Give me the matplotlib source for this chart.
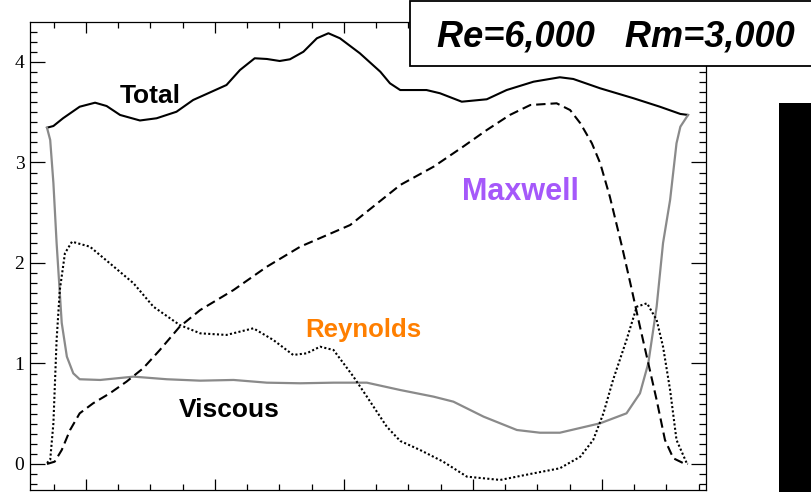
import numpy as np
import matplotlib
matplotlib.use("Agg")
import matplotlib.pyplot as plt
from matplotlib.patches import Rectangle

# curves (x normalised 0..1 across the domain)
x_total = [0.000, 0.010, 0.025, 0.051, 0.075, 0.093, 0.114, 0.145, 0.171, 0.202,
           0.228, 0.249, 0.280, 0.301, 0.324, 0.343, 0.363, 0.379, 0.400, 0.421,
           0.439, 0.457, 0.488, 0.520, 0.535, 0.551, 0.592, 0.613, 0.647, 0.686,
           0.717, 0.759, 0.800, 0.821, 0.863, 0.915, 0.956, 0.988, 1.000]
total = [3.346, 3.363, 3.440, 3.555, 3.595, 3.562, 3.473, 3.418, 3.440, 3.505,
         3.622, 3.682, 3.771, 3.920, 4.037, 4.030, 4.010, 4.027, 4.102, 4.236,
         4.286, 4.236, 4.087, 3.903, 3.788, 3.721, 3.721, 3.689, 3.605, 3.629,
         3.721, 3.804, 3.848, 3.831, 3.738, 3.639, 3.555, 3.483, 3.473]

x_maxwell = [0.000, 0.012, 0.023, 0.036, 0.051, 0.072, 0.098, 0.124, 0.150, 0.176,
             0.207, 0.239, 0.291, 0.343, 0.395, 0.473, 0.551, 0.603, 0.649, 0.686,
             0.722, 0.754, 0.795, 0.816, 0.832, 0.850, 0.863, 0.878, 0.897, 0.910,
             0.925, 0.938, 0.951, 0.964, 0.977, 0.993, 1.000]
maxwell = [0.000, 0.023, 0.139, 0.338, 0.504, 0.604, 0.703, 0.819, 0.952, 1.134,
           1.366, 1.532, 1.731, 1.963, 2.162, 2.378, 2.776, 2.958, 3.157, 3.323,
           3.473, 3.572, 3.589, 3.522, 3.390, 3.191, 2.992, 2.660, 2.162, 1.798,
           1.366, 1.002, 0.637, 0.239, 0.057, 0.007, 0.000]

x_viscous = [0.000, 0.005, 0.010, 0.015, 0.018, 0.023, 0.031, 0.041, 0.051, 0.083,
             0.135, 0.187, 0.239, 0.291, 0.343, 0.395, 0.447, 0.499, 0.551, 0.603,
             0.634, 0.681, 0.733, 0.769, 0.800, 0.863, 0.904, 0.925, 0.938, 0.951,
             0.961, 0.972, 0.982, 0.988, 1.000]
viscous = [3.346, 3.224, 2.796, 2.199, 1.900, 1.403, 1.068, 0.902, 0.843, 0.836,
           0.869, 0.843, 0.829, 0.836, 0.809, 0.803, 0.809, 0.809, 0.736, 0.670,
           0.620, 0.471, 0.338, 0.311, 0.311, 0.405, 0.504, 0.703, 1.002, 1.565,
           2.199, 2.627, 3.191, 3.356, 3.473]

x_reynolds = [0.000, 0.005, 0.010, 0.015, 0.020, 0.028, 0.039, 0.067, 0.098, 0.135,
              0.166, 0.207, 0.239, 0.280, 0.322, 0.353, 0.384, 0.405, 0.426, 0.447,
              0.478, 0.499, 0.530, 0.551, 0.582, 0.618, 0.655, 0.707, 0.759, 0.800,
              0.832, 0.852, 0.868, 0.883, 0.904, 0.920, 0.936, 0.951, 0.961, 0.972,
              0.982, 0.998]
reynolds = [0.010, 0.040, 0.405, 1.234, 1.731, 2.097, 2.212, 2.162, 1.997, 1.798,
            1.565, 1.383, 1.300, 1.284, 1.350, 1.234, 1.085, 1.101, 1.167, 1.134,
            0.869, 0.670, 0.371, 0.229, 0.139, 0.023, -0.126, -0.159, -0.093, -0.043,
            0.073, 0.239, 0.504, 0.836, 1.234, 1.565, 1.599, 1.433, 1.167, 0.736,
            0.239, 0.007]

W, H = 811, 492
fig = plt.figure(figsize=(W / 100, H / 100), dpi=100)
ax = fig.add_axes([30 / W, 2 / H, 676 / W, 468 / H])

ax.plot(x_total, total, color="black", lw=1.5)
ax.plot(x_viscous, viscous, color="#8a8a8a", lw=1.6)
ax.plot(x_maxwell, maxwell, color="black", lw=1.5, linestyle=(0, (4.5, 2.4)))
ax.plot(x_reynolds, reynolds, color="black", lw=1.5, linestyle=(0, (1, 1.1)))

ax.set_xlim(-0.0265, 1.028)
ax.set_ylim(-0.259, 4.398)

# ticks on all sides, pointing inwards, labels only on the left
xmaj = 0.0608 + 0.2012 * np.arange(5)
xmin = 0.0608 + 0.0503 * np.arange(-1, 20)
ax.set_xticks(xmaj)
ax.set_xticks(xmin[xmin < 1.028], minor=True)
ax.set_yticks([0, 1, 2, 3, 4])
ax.set_yticks(np.arange(-0.2, 4.35, 0.1), minor=True)
ax.tick_params(which="both", direction="in", top=True, right=True,
               labelbottom=False, width=0.9)
ax.tick_params(axis="y", which="major", length=10.5, pad=4)
ax.tick_params(axis="y", which="minor", length=5)
ax.tick_params(axis="x", which="major", length=8)
ax.tick_params(axis="x", which="minor", length=4.5)
for lab in ax.get_yticklabels():
    lab.set_family("Liberation Serif")
    lab.set_fontsize(14)
for sp in ax.spines.values():
    sp.set_linewidth(0.9)

lab_font = dict(family="Liberation Sans", weight="bold", ha="center", va="baseline")
ax.text(0.161, 3.589, "Total", fontsize=19, color="black", **lab_font)
ax.text(0.285, 0.471, "Viscous", fontsize=19, color="black", **lab_font)
ax.text(0.494, 1.267, "Reynolds", fontsize=18.5, color="#ff7f00", **lab_font)
ax.text(0.739, 2.627, "Maxwell", fontsize=22, color="#a558fa", **lab_font)

# parameter box at the top and the black bar on the right edge
fig.patches.append(Rectangle((410 / W, (H - 66) / H), 420 / W, 65 / H,
                             transform=fig.transFigure, facecolor="white",
                             edgecolor="black", lw=1.3, zorder=5))
fig.text(616 / W, (H - 46.7) / H, "Re=6,000   Rm=3,000", family="Liberation Sans",
         weight="bold", style="italic", fontsize=26, ha="center", va="baseline",
         zorder=6)
fig.patches.append(Rectangle((779 / W, 0), 40 / W, (H - 103) / H,
                             transform=fig.transFigure, facecolor="black",
                             edgecolor="none", zorder=5))

fig.savefig("out.png", dpi=100)
